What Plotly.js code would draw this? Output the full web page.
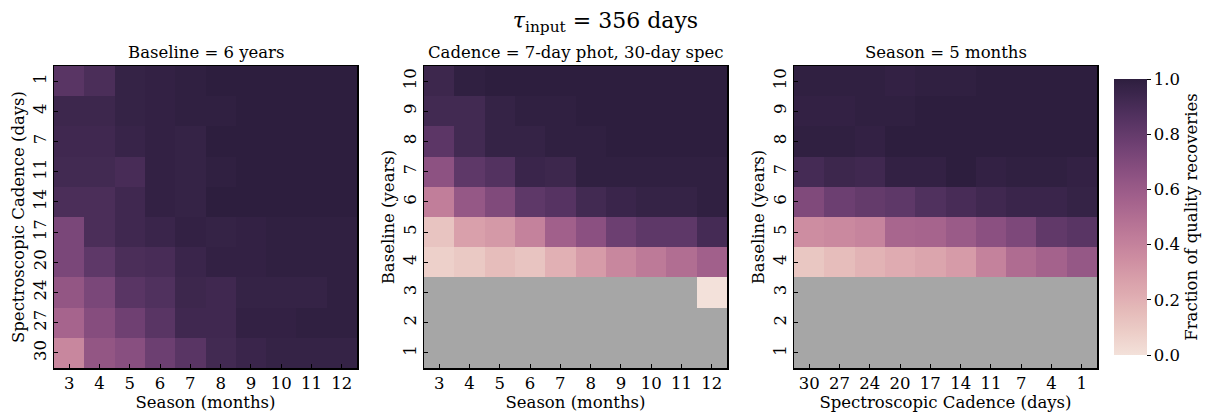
<!DOCTYPE html>
<html>
<head>
<meta charset="utf-8">
<script src="https://cdn.plot.ly/plotly-3.0.1.min.js"></script>
<style>html,body{margin:0;padding:0;background:#fff;}#chart{width:1211px;height:412px;}</style>
</head>
<body>
<div id="chart"></div>
<script>
// ---- data ----
const season = ['3','4','5','6','7','8','9','10','11','12'];
const specCadence = ['1','4','7','11','14','17','20','24','27','30'];
const specCadenceRev = ['30','27','24','20','17','14','11','7','4','1'];
const baseline = ['1','2','3','4','5','6','7','8','9','10'];

// Panel 1: Baseline = 6 years; rows = spectroscopic cadence, cols = season
const zBaseline6 = [
  [0.84,0.89,0.97,0.98,0.99,1.00,1.00,1.00,1.00,1.00],
  [0.94,0.94,0.97,0.98,0.99,0.99,1.00,1.00,1.00,1.00],
  [0.93,0.93,0.96,0.98,0.97,1.00,1.00,1.00,1.00,1.00],
  [0.92,0.92,0.90,0.98,0.97,0.99,1.00,1.00,1.00,1.00],
  [0.89,0.89,0.93,0.98,0.97,1.00,1.00,1.00,1.00,1.00],
  [0.72,0.89,0.93,0.95,0.98,0.97,0.98,0.99,0.99,0.99],
  [0.72,0.82,0.89,0.90,0.95,0.98,0.98,0.99,0.99,0.99],
  [0.63,0.72,0.84,0.87,0.94,0.93,0.97,0.97,0.97,0.99],
  [0.55,0.68,0.76,0.84,0.93,0.93,0.98,0.98,0.99,0.99],
  [0.38,0.63,0.67,0.77,0.84,0.92,0.95,0.97,0.97,0.97]
];

// Panel 2: Cadence = 7-day phot, 30-day spec; rows = baseline 1..10, cols = season
const zCadence = [
  [null,null,null,null,null,null,null,null,null,null],
  [null,null,null,null,null,null,null,null,null,null],
  [null,null,null,null,null,null,null,null,null,0.00],
  [0.07,0.10,0.15,0.12,0.20,0.29,0.38,0.44,0.50,0.57],
  [0.12,0.27,0.30,0.40,0.57,0.66,0.77,0.82,0.82,0.91],
  [0.42,0.62,0.70,0.82,0.85,0.92,0.95,0.97,0.97,0.99],
  [0.65,0.82,0.86,0.95,0.94,0.99,0.99,0.99,0.99,0.99],
  [0.83,0.92,0.97,0.97,0.99,0.99,1.00,1.00,1.00,1.00],
  [0.92,0.92,0.97,0.99,0.99,1.00,1.00,1.00,1.00,1.00],
  [0.94,0.99,1.00,1.00,1.00,1.00,1.00,1.00,1.00,1.00]
];

// Panel 3: Season = 5 months; rows = baseline 1..10, cols = spec cadence 30..1
const zSeason5 = [
  [null,null,null,null,null,null,null,null,null,null],
  [null,null,null,null,null,null,null,null,null,null],
  [null,null,null,null,null,null,null,null,null,null],
  [0.11,0.15,0.19,0.22,0.25,0.29,0.40,0.51,0.56,0.62],
  [0.35,0.37,0.39,0.54,0.55,0.60,0.66,0.71,0.81,0.84],
  [0.70,0.77,0.80,0.82,0.87,0.90,0.93,0.95,0.95,0.97],
  [0.91,0.94,0.93,0.98,0.98,1.00,0.98,0.99,0.99,0.98],
  [0.99,0.99,0.98,1.00,1.00,1.00,1.00,1.00,1.00,1.00],
  [0.98,0.98,0.99,0.99,1.00,1.00,1.00,1.00,1.00,1.00],
  [0.99,0.99,0.99,0.98,0.99,0.99,1.00,1.00,1.00,1.00]
];

const cbTickVals = [0, 0.2, 0.4, 0.6, 0.8, 1.0];
const cbTickText = ['0.0','0.2','0.4','0.6','0.8','1.0'];

// ---- cubehelix colorscale (seaborn style) ----
function cubehelixScale(n, light, dark) {
  const start = 0, rot = 0.4, gamma = 1, hue = 0.8;
  function ch(x, p0, p1) {
    const xg = Math.pow(x, gamma);
    const a = hue * xg * (1 - xg) / 2;
    const phi = 2 * Math.PI * (start / 3 + rot * x);
    return xg + a * (p0 * Math.cos(phi) + p1 * Math.sin(phi));
  }
  const out = [];
  for (let i = 0; i < n; i++) {
    const v = i / (n - 1);
    const x = light + (dark - light) * v;
    const c = [ch(x, -0.14861, 1.78277), ch(x, -0.29227, -0.90649), ch(x, 1.97294, 0)]
      .map(t => Math.round(255 * Math.min(1, Math.max(0, t))));
    out.push([v, 'rgb(' + c.join(',') + ')']);
  }
  return out;
}
const cscale = cubehelixScale(41, 0.9, 0.15);

const FONT = 'DejaVu Serif, Liberation Serif, serif';
const FS = 16.5;

function hm(x, y, z, xa, ya, showScale) {
  return {
    type: 'heatmap', x: x, y: y, z: z, xaxis: xa, yaxis: ya,
    colorscale: cscale, zmin: 0, zmax: 1, showscale: showScale,
    hoverongaps: false, hoverinfo: 'skip',
    colorbar: showScale ? {
      x: 1114/1211, xanchor: 'left', xref: 'paper',
      y: (412-217)/412, yanchor: 'middle',
      len: 276/412, lenmode: 'fraction',
      thickness: 33, thicknessmode: 'pixels',
      outlinewidth: 0, xpad: 0, ypad: 0,
      ticks: 'outside', ticklen: 4, tickcolor: '#000',
      tickvals: cbTickVals, ticktext: cbTickText,
      tickfont: {family: FONT, size: FS, color: '#000'},
      title: {text: 'Fraction of quality recoveries', side: 'right',
              font: {family: FONT, size: FS, color: '#000'}}
    } : undefined
  };
}

const traces = [
  hm(season, specCadence, zBaseline6, 'x', 'y', false),
  hm(season, baseline, zCadence, 'x2', 'y2', false),
  hm(specCadenceRev, baseline, zSeason5, 'x3', 'y3', true)
];

const yDom = [44/412, 346/412];
function xax(dom, title, anchor) {
  return {
    domain: dom, type: 'category', anchor: anchor,
    showline: true, mirror: true, linecolor: '#000', linewidth: 1.5,
    ticks: 'inside', ticklen: 4, tickcolor: '#000', tickwidth: 1,
    showgrid: false, zeroline: false, fixedrange: true,
    tickfont: {family: FONT, size: FS, color: '#000'},
    title: {text: title, font: {family: FONT, size: FS, color: '#000'}, standoff: 2}
  };
}
function yax(title, reversed, anchor) {
  return {
    domain: yDom, type: 'category', anchor: anchor,
    autorange: reversed ? 'reversed' : true,
    showline: true, mirror: true, linecolor: '#000', linewidth: 1.5,
    ticks: 'inside', ticklen: 4, tickcolor: '#000', tickwidth: 1,
    tickangle: -90,
    showgrid: false, zeroline: false, fixedrange: true,
    tickfont: {family: FONT, size: FS, color: '#000'},
    title: {text: title, font: {family: FONT, size: FS, color: '#000'}, standoff: 2}
  };
}

const subTitles = ['Baseline = 6 years', 'Cadence = 7-day phot, 30-day spec', 'Season = 5 months'];
const subCenters = [(54+357)/2/1211, (424+727)/2/1211, (794+1097)/2/1211];

const layout = {
  width: 1211, height: 412,
  margin: {l: 0, r: 0, t: 0, b: 0},
  paper_bgcolor: '#fff', plot_bgcolor: '#a6a6a6',
  font: {family: FONT, size: FS, color: '#000'},
  title: {text: '<i>τ</i><sub>input</sub> = 356 days', x: 0.5, xanchor: 'center',
          y: 1 - 20/412, yanchor: 'middle', yref: 'paper',
          font: {family: FONT, size: 22, color: '#000'}},
  xaxis: xax([54/1211, 357/1211], 'Season (months)', 'y'),
  yaxis: yax('Spectroscopic Cadence (days)', true, 'x'),
  xaxis2: xax([424/1211, 727/1211], 'Season (months)', 'y2'),
  yaxis2: yax('Baseline (years)', false, 'x2'),
  xaxis3: xax([794/1211, 1097/1211], 'Spectroscopic Cadence (days)', 'y3'),
  yaxis3: yax('Baseline (years)', false, 'x3'),
  annotations: subTitles.map((t, i) => ({
    text: t, x: subCenters[i], xref: 'paper', xanchor: 'center',
    y: (412-52)/412, yref: 'paper', yanchor: 'middle', showarrow: false,
    font: {family: FONT, size: FS, color: '#000'}
  })),
  showlegend: false
};

Plotly.newPlot('chart', traces, layout, {displayModeBar: false, staticPlot: true});
</script>
</body>
</html>
